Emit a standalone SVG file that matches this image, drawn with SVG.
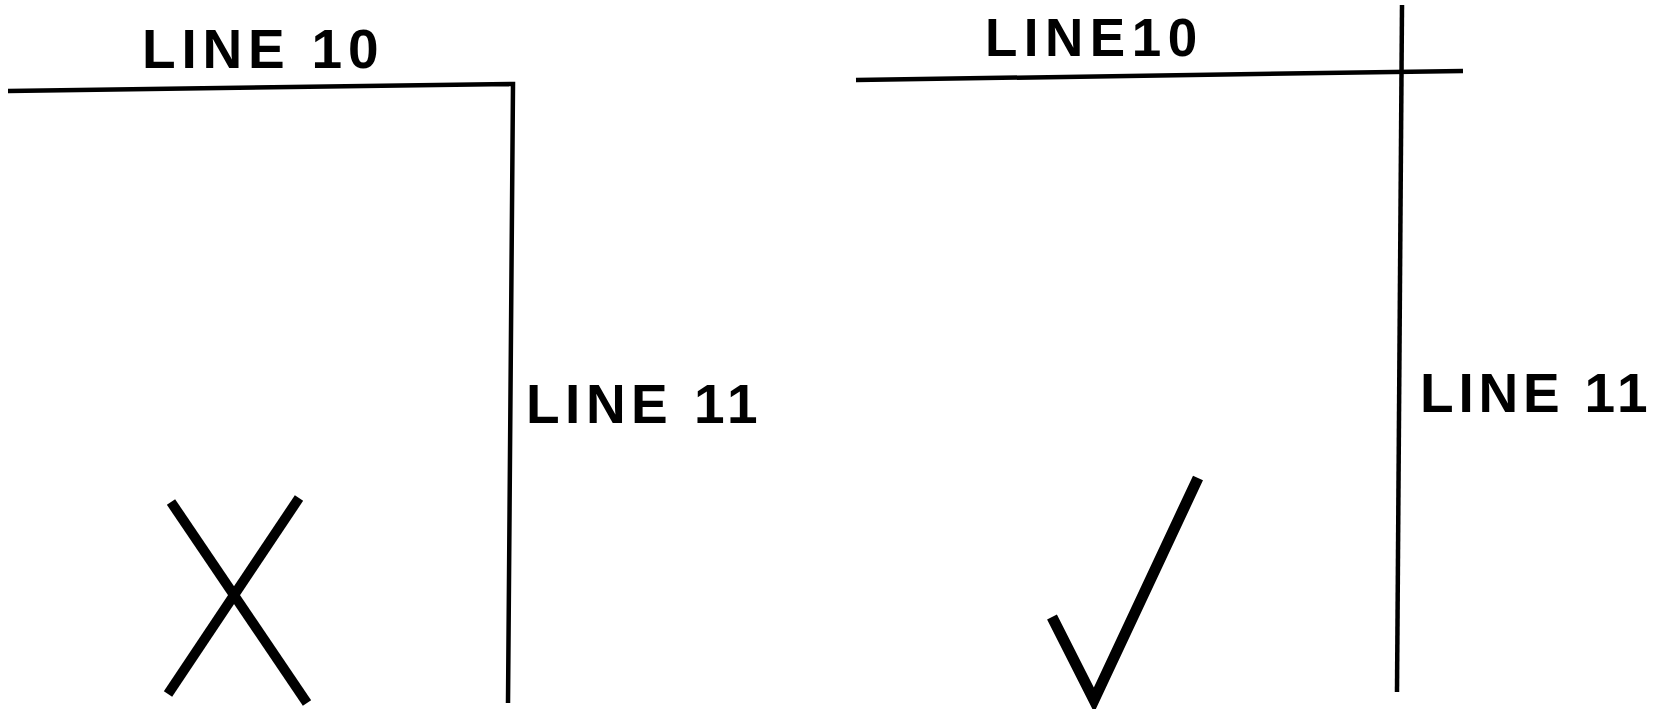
<svg xmlns="http://www.w3.org/2000/svg" width="1665" height="709" viewBox="0 0 1665 709">
<style>
.ln{stroke:#000;stroke-width:4.5;fill:none;stroke-linecap:butt}
.mk{stroke:#000;stroke-width:10;fill:none;stroke-linecap:butt;stroke-linejoin:miter}
.lb{font-family:"Liberation Sans",Arial,sans-serif;font-weight:bold;font-size:55px;fill:#000}
</style>
<rect width="1665" height="709" fill="#fff"/>
<g id="connectors">
<polyline class="ln" points="8,91 513,84 508,703"/>
<line class="ln" x1="856" y1="80" x2="1463" y2="71"/>
<line class="ln" x1="1402" y1="5" x2="1397" y2="692"/>
</g>
<g id="wrong-example">
<text class="lb" x="142" y="68" letter-spacing="5.8">LINE 10</text>
<text class="lb" x="526" y="423" letter-spacing="5.5">LINE 11</text>
<g id="x-mark">
<line class="mk" x1="171" y1="502" x2="307" y2="703"/>
<line class="mk" x1="299" y1="498" x2="168" y2="694"/>
</g>
</g>
<g id="right-example">
<text class="lb" x="985" y="56" style="font-size:53px" letter-spacing="6.5">LINE10</text>
<text class="lb" x="1420" y="412" letter-spacing="4.8">LINE 11</text>
<g id="check-mark">
<polyline class="mk" style="stroke-width:11" points="1052,617 1094,700 1198,478"/>
</g>
</g>
</svg>
